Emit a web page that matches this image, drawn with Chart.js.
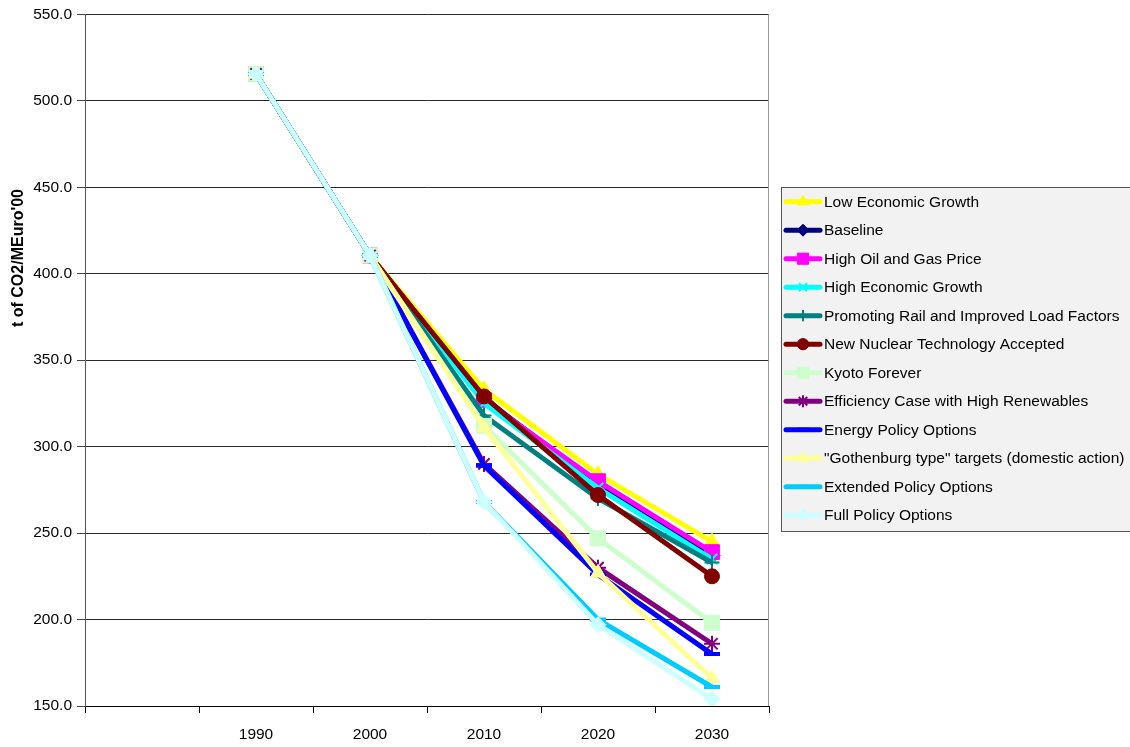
<!DOCTYPE html>
<html>
<head>
<meta charset="utf-8">
<title>CO2 intensity scenarios</title>
<script src="https://cdn.jsdelivr.net/npm/chart.js@4.4.1/dist/chart.umd.min.js"></script>
<style>
  html, body { margin: 0; padding: 0; background: #ffffff; }
  #wrap { width: 1130px; height: 747px; position: relative; }
</style>
</head>
<body>
<div id="wrap"><canvas id="chart" width="1130" height="747"></canvas></div>
<script>
// Categories (first slot is an empty category, as on the original axis)
const years = ['', '1990', '2000', '2010', '2020', '2030'];

// t of CO2 per MEuro'00, by scenario
const lowEconomicGrowth        = [null, 515.5, 410.5, 333, 284, 245];
const baseline                 = [null, 515.5, 410.5, 328, 278, 237];
const highOilAndGasPrice       = [null, 515.5, 410.5, 327, 280, 239];
const highEconomicGrowth       = [null, 515.5, 410.5, 325, 276, 235];
const promotingRail            = [null, 515.5, 410.5, 318, 270, 233];
const newNuclearTechnology     = [null, 515.5, 410.5, 329, 272, 225];
const kyotoForever             = [null, 515.5, 410.5, 312, 247, 198];
const efficiencyRenewables     = [null, 515.5, 410.5, 290, 230, 186];
const energyPolicyOptions      = [null, 515.5, 410.5, 289, 226, 180];
const gothenburgTargets        = [null, 515.5, 410.5, 311, 227, 166];
const extendedPolicyOptions    = [null, 515.5, 410.5, 268, 200, 161];
const fullPolicyOptions        = [null, 515.5, 410.5, 268, 197, 154];

// Y axis tick values
const yTicks = [150, 200, 250, 300, 350, 400, 450, 500, 550];

const seriesNames = [
  'Low Economic Growth',
  'Baseline',
  'High Oil and Gas Price',
  'High Economic Growth',
  'Promoting Rail and Improved Load Factors',
  'New Nuclear Technology Accepted',
  'Kyoto Forever',
  'Efficiency Case with High Renewables',
  'Energy Policy Options',
  '"Gothenburg type" targets (domestic action)',
  'Extended Policy Options',
  'Full Policy Options'
];
const seriesValues = [
  lowEconomicGrowth, baseline, highOilAndGasPrice, highEconomicGrowth,
  promotingRail, newNuclearTechnology, kyotoForever, efficiencyRenewables,
  energyPolicyOptions, gothenburgTargets, extendedPolicyOptions, fullPolicyOptions
];

// Line colour and marker per series
const seriesStyles = [
  { color: '#FFFF00', marker: 'triangle', r: 8.5, bw: 1 },
  { color: '#000080', marker: 'rectRot',  r: 8,   bw: 1 },
  { color: '#FF00FF', marker: 'rect',     r: 10.5, bw: 1 },
  { color: '#00FFFF', marker: 'crossRot', r: 7.5, bw: 2 },
  { color: '#008080', marker: 'cross',    r: 7.5, bw: 2 },
  { color: '#800000', marker: 'circle',   r: 7.5, bw: 1 },
  { color: '#CCFFCC', marker: 'rect',     r: 10.5, bw: 1 },
  { color: '#800080', marker: 'star',     r: 8,   bw: 2 },
  { color: '#0000FF', marker: 'line',     r: 8,   bw: 4 },
  { color: '#FFFF99', marker: 'triangle', r: 8.5, bw: 1 },
  { color: '#00CCFF', marker: 'line',     r: 8,   bw: 4 },
  { color: '#CCFFFF', marker: 'rectRot',  r: 8,   bw: 1 }
];

const FONT = "'Liberation Sans', Arial, sans-serif";
const n = seriesNames.length;

const datasets = seriesNames.map((name, i) => {
  const s = seriesStyles[i];
  return {
    label: name,
    data: seriesValues[i],
    borderColor: s.color,
    backgroundColor: s.color,
    borderWidth: 5,
    tension: 0,
    pointStyle: s.marker,
    pointRadius: s.r,
    pointHoverRadius: s.r,
    pointBorderWidth: s.bw,
    pointBackgroundColor: s.color,
    pointBorderColor: s.color,
    spanGaps: false,
    // later series are painted over earlier ones
    order: n - 1 - i
  };
});

// Plot frame on the right edge, y axis title and the boxed legend
const decorations = {
  id: 'decorations',
  afterDraw(chart) {
    const ctx = chart.ctx;
    const a = chart.chartArea;
    ctx.save();

    // right edge of plot area
    ctx.strokeStyle = '#9a9a9a';
    ctx.lineWidth = 1;
    ctx.beginPath();
    ctx.moveTo(Math.round(a.right) - 0.5, a.top);
    ctx.lineTo(Math.round(a.right) - 0.5, a.bottom);
    ctx.stroke();

    // y axis title
    ctx.save();
    ctx.translate(19, 258);
    ctx.rotate(-Math.PI / 2);
    ctx.fillStyle = '#000';
    ctx.font = 'bold 16px ' + FONT;
    ctx.textAlign = 'center';
    ctx.textBaseline = 'middle';
    ctx.fillText("t of CO2/MEuro'00", 0, 0);
    ctx.restore();

    // legend box
    const lx = 781.5, ly = 187.5, lw = 360, lh = 344;
    ctx.fillStyle = '#F2F2F2';
    ctx.fillRect(lx, ly, lw, lh);
    ctx.strokeStyle = '#555';
    ctx.lineWidth = 1;
    ctx.strokeRect(lx, ly, lw, lh);

    const rowTop = 201.7, rowStep = 28.5;
    ctx.font = '15.5px ' + FONT;
    ctx.textBaseline = 'middle';
    ctx.textAlign = 'left';
    seriesNames.forEach((name, i) => {
      const s = seriesStyles[i];
      const y = rowTop + i * rowStep;
      ctx.strokeStyle = s.color;
      ctx.lineWidth = 5;
      ctx.lineCap = 'round';
      ctx.beginPath();
      ctx.moveTo(786, y);
      ctx.lineTo(820, y);
      ctx.stroke();
      ctx.lineCap = 'butt';
      ctx.fillStyle = s.color;
      ctx.strokeStyle = s.color;
      ctx.lineWidth = s.bw;
      Chart.helpers.drawPoint(ctx, {
        pointStyle: s.marker,
        radius: s.r * 0.75,
        rotation: 0,
        borderWidth: s.bw
      }, 803, y);
      ctx.fillStyle = '#000';
      ctx.fillText(name, 824, y + 1);
    });
    ctx.restore();
  }
};

new Chart(document.getElementById('chart'), {
  type: 'line',
  data: { labels: years, datasets },
  options: {
    responsive: false,
    animation: false,
    events: [],
    layout: { padding: { top: 14, right: 361, left: 0, bottom: 0 } },
    plugins: {
      legend: { display: false },
      tooltip: { enabled: false },
      title: { display: false }
    },
    scales: {
      x: {
        type: 'category',
        offset: true,
        grid: {
          offset: true,
          drawOnChartArea: false,
          drawTicks: true,
          tickLength: 7,
          color: '#000',
          lineWidth: 1
        },
        border: { display: true, color: '#000', width: 1 },
        ticks: {
          color: '#000',
          font: { family: FONT, size: 15.5 },
          padding: 12,
          autoSkip: false,
          maxRotation: 0,
          minRotation: 0
        },
        afterFit(scale) { scale.height = 41; }
      },
      y: {
        min: 150,
        max: 550,
        afterBuildTicks(scale) { scale.ticks = yTicks.map(v => ({ value: v })); },
        grid: {
          color: '#2a2a2a',
          lineWidth: 1,
          drawTicks: true,
          tickLength: 8,
          tickColor: '#444'
        },
        border: { display: true, color: '#555', width: 1 },
        ticks: {
          color: '#000',
          font: { family: FONT, size: 15.5 },
          padding: 5,
          callback: v => Number(v).toFixed(1)
        },
        afterFit(scale) { scale.width = 85; }
      }
    }
  },
  plugins: [decorations]
});
</script>
</body>
</html>
